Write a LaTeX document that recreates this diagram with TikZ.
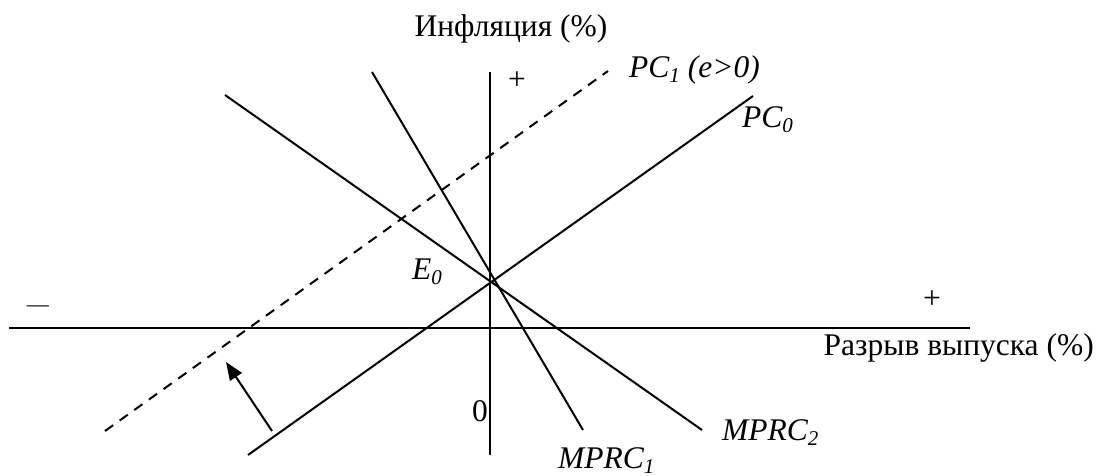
\documentclass[tikz,border=0pt]{standalone}
\usepackage{fontspec}
\setmainfont{Liberation Serif}
\usetikzlibrary{arrows.meta}
\newcommand{\lowsub}[1]{\raisebox{-5pt}{\fontsize{21}{24}\selectfont #1}}
\begin{document}
\begin{tikzpicture}[x=1pt,y=-1pt,
  curve/.style={line width=2pt},
  axis/.style={line width=2pt},
  lbl/.style={inner sep=0pt,font=\fontsize{31.5}{36}\selectfont},
  ilbl/.style={inner sep=0pt,font=\fontsize{31.5}{36}\selectfont\itshape}]
\useasboundingbox (0,0) rectangle (1102,476);
% axes
\coordinate (xl) at (9,328);
\coordinate (xr) at (970,328);
\coordinate (yt) at (490,72);
\coordinate (yb) at (490,455);
\draw[axis] (xl) -- (xr);
\draw[axis] (yt) -- (yb);
% curves
\coordinate (pc0a) at (248,455);
\coordinate (pc0b) at (753,96);
\coordinate (pc1a) at (105,431);
\coordinate (pc1b) at (608,71);
\coordinate (m1a) at (372,72);
\coordinate (m1b) at (583,430);
\coordinate (m2a) at (225,95);
\coordinate (m2b) at (702,430);
\draw[curve] (pc0a) -- (pc0b);
\draw[curve,dash pattern=on 10pt off 8pt] (pc1a) -- (pc1b);
\draw[curve] (m1a) -- (m1b);
\draw[curve] (m2a) -- (m2b);
% shift arrow
\coordinate (arf) at (272,431);
\coordinate (art) at (226,362);
\draw[curve,-{Triangle[length=18pt,width=14pt]}] (arf) -- (art);
% labels
\node[lbl,anchor=base] (ylab) at (511,37) {Инфляция (\%)};
\node[lbl,anchor=base east] (xlab) at (1094,355) {Разрыв выпуска (\%)};
\node[ilbl,anchor=base west] (pc1) at (629,78) {PC\lowsub{1} (e>0)};
\node[ilbl,anchor=base west] (pc0) at (742,128) {PC\lowsub{0}};
\node[ilbl,anchor=base west] (e0) at (412,279) {E\lowsub{0}};
\node[ilbl,anchor=base west] (mp1) at (558,468) {MPRC\lowsub{1}};
\node[ilbl,anchor=base west] (mp2) at (722,440) {MPRC\lowsub{2}};
\node[lbl] (plusy) at (517,81) {+};
\node[lbl] (plusx) at (932,300) {+};
\node[lbl,font=\fontsize{22}{26}\selectfont] (minus) at (38,309) {—};
\node[lbl] (zero) at (480,411) {0};
\end{tikzpicture}
\end{document}
